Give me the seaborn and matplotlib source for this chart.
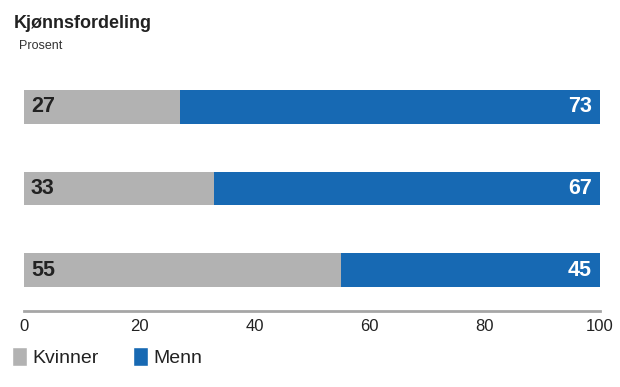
import pandas as pd
import seaborn as sns
import matplotlib.pyplot as plt
from matplotlib.patches import Patch

# Data
grupper = ["Gruppe 1", "Gruppe 2", "Gruppe 3"]
kvinner = [27, 33, 55]
menn = [73, 67, 45]

GRA = "#b2b2b2"
BLA = "#1769b3"

df = pd.DataFrame({"Gruppe": grupper, "Kvinner": kvinner, "Menn": menn})
df["Total"] = df["Kvinner"] + df["Menn"]

sns.set_style("white")
plt.rcParams["font.family"] = ["Liberation Sans", "DejaVu Sans"]

fig = plt.figure(figsize=(6.2, 3.87), dpi=100)
ax = fig.add_axes([24 / 620, 1 - 311 / 387, 576 / 620, (311 - 66) / 387])

# stacked bars: total in blue, women drawn on top in gray
sns.barplot(data=df, y="Gruppe", x="Total", color=BLA, orient="h",
            width=0.41, saturation=1, linewidth=0, ax=ax)
sns.barplot(data=df, y="Gruppe", x="Kvinner", color=GRA, orient="h",
            width=0.41, saturation=1, linewidth=0, ax=ax)

for i, (k, m) in enumerate(zip(kvinner, menn)):
    ax.text(1.2, i, str(k), ha="left", va="center", fontsize=15.5,
            fontweight="bold", color="#222222")
    ax.text(98.6, i, str(m), ha="right", va="center", fontsize=15.5,
            fontweight="bold", color="white")

ax.set_xlim(0, 100)
ax.set_ylim(2.5, -0.5)
ax.set_xticks([0, 20, 40, 60, 80, 100])
ax.set_yticks([])
ax.set_xlabel("")
ax.set_ylabel("")
ax.tick_params(axis="x", length=0, pad=6, labelsize=12, labelcolor="#222222")
for s in ["top", "right", "left"]:
    ax.spines[s].set_visible(False)
ax.spines["bottom"].set_color("#a6a6a6")
ax.spines["bottom"].set_linewidth(2)

fig.text(14 / 620, 1 - 24 / 387, "Kjønnsfordeling", fontsize=13,
         fontweight="bold", color="#222222", va="center")
fig.text(19 / 620, 1 - 46 / 387, "Prosent", fontsize=9, color="#333333",
         va="center")

handles = [Patch(facecolor=GRA, label="Kvinner"),
           Patch(facecolor=BLA, label="Menn")]
fig.legend(handles=handles, loc="center left", bbox_to_anchor=(-0.002, 1 - 357 / 387),
           ncol=2, frameon=False, fontsize=14, handlelength=0.75, handleheight=1.1,
           handletextpad=0.3, columnspacing=1.75, labelcolor="#222222",
           borderpad=0.2)

fig.savefig("out.png", dpi=100)
